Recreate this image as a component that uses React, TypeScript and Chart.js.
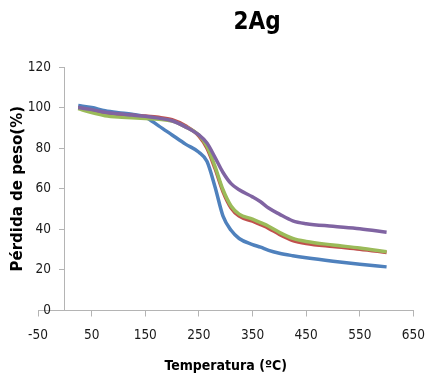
import { useEffect, useRef } from "react";
import { Chart, registerables } from "chart.js";

Chart.register(...registerables);

// ---- data ----
const temperatures = [25, 50, 75, 100, 125, 150, 175, 200, 225, 250, 265, 280, 295, 310, 325, 350, 365, 380, 400, 425, 450, 500, 550, 600];
const seriesBlue = [101, 100, 98.5, 97.5, 96.7, 95.3, 91, 86.5, 82, 78, 73.5, 61, 46.5, 39.5, 35.5, 32.5, 31.2, 29.6, 28.2, 27, 26, 24.3, 22.8, 21.5];
const seriesRed = [100, 98.5, 97.3, 96.7, 96.2, 95.8, 95.2, 94, 91, 86, 80, 70, 58.5, 50.5, 46.5, 44, 42.3, 40.5, 37.5, 34.5, 33, 31.5, 30.2, 28.6];
const seriesGreen = [99.5, 97.5, 96, 95.3, 95, 94.6, 94.2, 93.3, 90.5, 86.5, 81, 71, 59.5, 51.5, 47.5, 45, 43.3, 41.5, 38.5, 35.5, 34, 32.3, 30.8, 29];
const seriesPurple = [100, 99, 97.7, 96.9, 96.3, 95.7, 94.8, 93.5, 90.5, 86.5, 82.5, 75.5, 68, 62.5, 59.5, 56, 53.6, 50.5, 47.5, 44.2, 42.8, 41.5, 40.3, 38.6];
const seriesNames = ["Serie1", "Serie2", "Serie3", "Serie4"];
const seriesColors = ["#4F81BD", "#C0504D", "#9BBB59", "#8064A2"];

const xMin = -50;
const xMax = 650;
const xStep = 100;
const yMin = 0;
const yMax = 120;
const yStep = 20;

const chartTitle = "2Ag";
const xTitle = "Temperatura (ºC)";
const yTitle = "Pérdida de peso(%)";

const NARROW = "'DejaVu Sans Condensed', 'DejaVu Sans', sans-serif";
const AXIS = "#b4b4b4";
const TEXT = "#1a1a1a";
const TICK_SIZE = 13.5;

const titleShift = {
  id: "titleShift",
  afterLayout(chart: any) {
    const t = chart.titleBlock;
    if (t) {
      t.left += 46;
      t.right += 46;
    }
  },
};

function measure(text: string, font: string) {
  const ctx = document.createElement("canvas").getContext("2d")!;
  ctx.font = font;
  return ctx.measureText(text).width;
}

export default function App() {
  const ref = useRef<HTMLCanvasElement | null>(null);

  useEffect(() => {
    if (!ref.current) return;
    const all = [seriesBlue, seriesRed, seriesGreen, seriesPurple];
    const datasets = all.map((vals, i) => ({
      label: seriesNames[i],
      data: temperatures.map((t, j) => ({ x: t, y: vals[j] })),
      borderColor: seriesColors[i],
      backgroundColor: seriesColors[i],
      borderWidth: 3.5,
      pointRadius: 0,
      cubicInterpolationMode: "monotone" as const,
      fill: false,
      order: all.length - i,
    }));

    const widest = measure(String(yMax), `${TICK_SIZE}px ${NARROW}`);
    const yLabelPad = 13 - widest;

    const chart = new Chart(ref.current, {
      type: "line",
      data: { datasets },
      plugins: [titleShift],
      options: {
        animation: false,
        responsive: false,
        layout: { padding: { left: 0, right: 14, top: 0, bottom: 0 } },
        plugins: {
          legend: { display: false },
          tooltip: { enabled: false },
          title: {
            display: true,
            text: chartTitle,
            color: "#000",
            font: { family: NARROW, size: 24, weight: "bold" },
            padding: { top: 8.6, bottom: 29.6 },
          },
        },
        scales: {
          x: {
            type: "linear",
            min: xMin,
            max: xMax,
            ticks: {
              stepSize: xStep,
              autoSkip: false,
              maxRotation: 0,
              color: TEXT,
              font: { family: NARROW, size: TICK_SIZE },
              padding: 11,
            },
            grid: { drawOnChartArea: false, drawTicks: true, tickLength: 6, color: AXIS },
            border: { display: true, color: AXIS, width: 1 },
            title: {
              display: true,
              text: xTitle,
              color: "#000",
              font: { family: NARROW, size: 14, weight: "bold" },
              padding: { top: 0, bottom: 6.1 },
            },
            afterFit: (s: any) => {
              s.height = 70.5;
            },
          },
          y: {
            type: "linear",
            position: "left",
            min: yMin,
            max: yMax,
            ticks: {
              stepSize: yStep,
              color: TEXT,
              font: { family: NARROW, size: TICK_SIZE },
              mirror: true,
              crossAlign: "far",
              padding: yLabelPad,
            },
            grid: { display: false, drawTicks: false },
            border: { display: false },
            title: {
              display: true,
              text: yTitle,
              color: "#000",
              font: { family: "'DejaVu Sans', sans-serif", size: 15, weight: "bold" },
              padding: { top: 9.5, bottom: 0 },
            },
            afterFit: (s: any) => {
              s.width = 38;
            },
          },
          yLine: {
            axis: "y",
            type: "linear",
            position: { x: 0 },
            min: yMin,
            max: yMax,
            ticks: { display: false, stepSize: yStep },
            grid: { drawOnChartArea: false, drawTicks: true, tickLength: 5, color: AXIS },
            border: { display: true, color: AXIS, width: 1 },
          },
        } as any,
      },
    });
    return () => chart.destroy();
  }, []);

  return (
    <div style={{ position: "absolute", left: 0, top: 0, width: 436, height: 381, background: "#fff" }}>
      <canvas ref={ref} width={436} height={381} style={{ display: "block" }} />
    </div>
  );
}
